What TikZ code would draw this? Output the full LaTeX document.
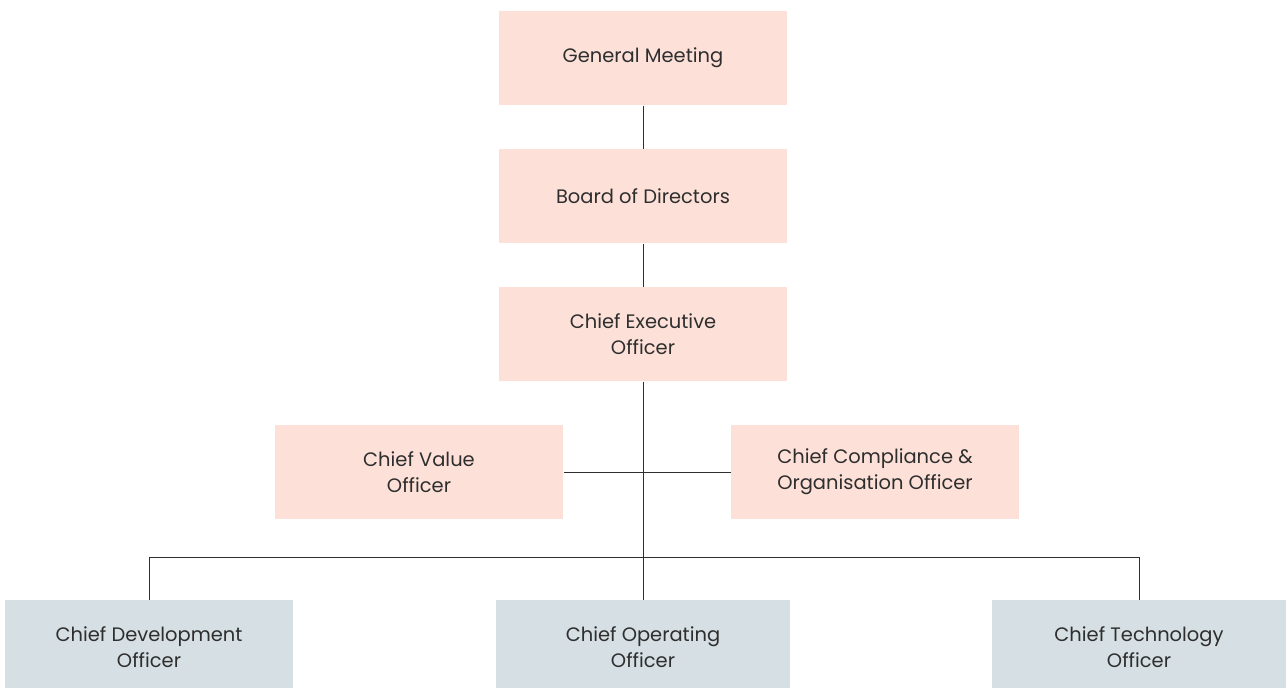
\documentclass[tikz,border=0pt]{standalone}
\usepackage{fontspec}
\setmainfont{Poppins}
\usepackage{tikz}
\usepackage{xcolor}
\usetikzlibrary{positioning}
\definecolor{peach}{HTML}{FDE1D8}
\definecolor{slate}{HTML}{D6DFE3}
\definecolor{ink}{HTML}{2E2E2E}
\tikzstyle{peach box}=[
        fill = peach,
        minimum width = 216pt,
        minimum height = 70.5pt,
        align = center,
        text = ink,
        font = \fontsize{14.6}{19.5}\selectfont
    ]
\tikzstyle{slate box}=[
    peach box,
    fill = slate,
    minimum width = 220.5pt
]

\begin{document}
\begin{tikzpicture}[x=0.75pt, y=-0.75pt, node distance={103.5pt}, line width=0.75pt, main/.style = {draw=ink}]
        \useasboundingbox (0,0) rectangle (1288,687);
        \node[peach box] (gm) at (643,58) {General Meeting};
        \node[peach box] (bod) [below of = gm] {Board of Directors};
        \node[peach box] (ceo) [below of = bod] {Chief Executive\\Officer};
        \node[peach box] (cvo) [below of = ceo, xshift=-168pt] {Chief Value\\Officer};
        \node[peach box] (cco) [below of = ceo, xshift=174pt] {Chief Compliance \&\\Organisation Officer};
        \node[slate box] (coo) at (643,647) {Chief Operating\\Officer};
        \node[peach box, fill=slate] (cdo) [left of = coo, node distance=370.5pt] {Chief Development\\Officer};
        \node[slate box] (cto) [right of = coo, node distance=372pt] {Chief Technology\\Officer};
        \coordinate (bus) at ([yshift=31.5pt]coo.north);

        \draw[main] (gm) -- (bod);
        \draw[main] (bod) -- (ceo);
        \draw[main] (ceo) -- (coo);
        \draw[main] (cvo) -- (cco);
        \draw[main] (cdo) |- (bus) -| (cto);

    \end{tikzpicture}
\end{document}
